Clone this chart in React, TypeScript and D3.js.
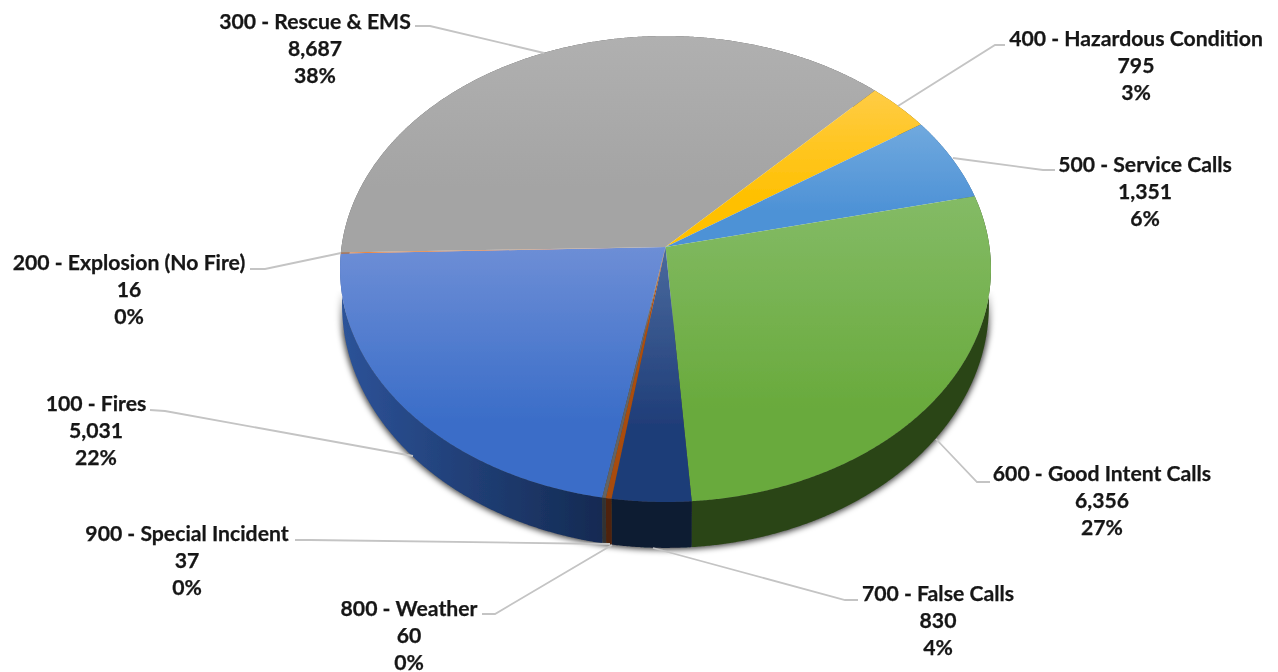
import * as d3 from "d3";

const categories = [
  "100 - Fires",
  "200 - Explosion (No Fire)",
  "300 - Rescue & EMS",
  "400 - Hazardous Condition",
  "500 - Service Calls",
  "600 - Good Intent Calls",
  "700 - False Calls",
  "800 - Weather",
  "900 - Special Incident",
];
const counts = [5031, 16, 8687, 795, 1351, 6356, 830, 60, 37];

// top face gradient (light, base) and wall gradient (left, right)
const topColors = [
  ["#6d8ed6", "#3a6dc8"],
  ["#ed7d31", "#ed7d31"],
  ["#b0b0b0", "#a4a4a4"],
  ["#ffcc45", "#ffc000"],
  ["#70a9de", "#4e92d6"],
  ["#84bb66", "#69aa3c"],
  ["#4a6a9e", "#1f3d78"],
  ["#b5500f", "#a84c0e"],
  ["#707070", "#636363"],
];
const wallColors = [
  ["#2d5399", "#142a52"],
  ["#7a3d14", "#7a3d14"],
  ["#555555", "#555555"],
  ["#7f6000", "#7f6000"],
  ["#2e5d8c", "#2e5d8c"],
  ["#2b4517", "#2b4517"],
  ["#0c1a33", "#0c1a33"],
  ["#4f2407", "#4f2407"],
  ["#333333", "#333333"],
];

// label centre and leader line for each category
const labelCenters = [
  [96, 404],
  [129, 263],
  [315, 22],
  [1136, 39],
  [1145, 165],
  [1102, 474],
  [938, 594],
  [409, 609],
  [187, 534],
];
const leaders = [
  [[150, 410], [165, 411], [413, 456]],
  [[250, 269], [265, 269], [341, 253]],
  [[415, 26], [430, 26], [544, 53]],
  [[1005, 45], [995, 45], [898, 106]],
  [[1055, 170], [1043, 170], [953, 158]],
  [[990, 482], [977, 482], [936, 439]],
  [[858, 600], [845, 600], [653, 548]],
  [[482, 614], [495, 614], [612, 545]],
  [[295, 540], [310, 540], [610, 544]],
];

const width = 1278;
const height = 672;
const perspective = 0.0944;
const startDeg = 190.2;

// disc plane projected with a little perspective, so the hub sits above the ellipse centre
const project = (hx: number, hy: number, a: number, b: number) => (angle: number): [number, number] => {
  const u = Math.sin(angle);
  const v = -Math.cos(angle);
  const w = 1 - perspective * v;
  return [hx + (a * u) / w, hy + (b * v) / w];
};
const topPlane = project(665.5, 247, 324, 230.9);
const bottomPlane = project(665.5, 282, 322, 240.8);

const arcAngles = (a0: number, a1: number) => {
  const n = Math.max(2, Math.ceil((a1 - a0) / 0.005));
  return d3.range(n + 1).map((i) => a0 + ((a1 - a0) * i) / n);
};
const line = d3.line();

export default function App() {
  const total = d3.sum(counts);
  const slices = d3
    .pie<number>()
    .sort(null)
    .startAngle((startDeg * Math.PI) / 180)
    .endAngle((startDeg * Math.PI) / 180 + 2 * Math.PI)(counts);
  const fmt = d3.format(",");

  return (
    <svg
      width={width}
      height={height}
      style={{ position: "fixed", left: 0, top: 0, background: "#fff" }}
    >
      <defs>
        <filter id="shadow" x="-10%" y="-10%" width="120%" height="120%">
          <feGaussianBlur stdDeviation="3" />
        </filter>
        <filter id="soft" x="-5%" y="-5%" width="110%" height="110%">
          <feGaussianBlur stdDeviation="0.35" />
        </filter>
        <filter id="softText" x="0" y="0" width="100%" height="100%" filterUnits="userSpaceOnUse">
          <feGaussianBlur stdDeviation="0.45" />
        </filter>
        {/* shadow fades in below the widest part of the pie */}
        <linearGradient id="shadowFade" gradientUnits="userSpaceOnUse" x1="0" y1="290" x2="0" y2="335">
          <stop offset="0" stopColor="#000" />
          <stop offset="1" stopColor="#fff" />
        </linearGradient>
        <mask id="lowerHalf" maskUnits="userSpaceOnUse" x="0" y="0" width={width} height={height}>
          <rect x={0} y={0} width={width} height={height} fill="url(#shadowFade)" />
        </mask>
        {slices.map((s, i) => (
          <g key={i}>
            <linearGradient id={`top${i}`} x1="0" y1="0" x2="0" y2="1">
              <stop offset="0" stopColor={topColors[s.index][0]} />
              <stop offset="0.7" stopColor={topColors[s.index][1]} />
            </linearGradient>
            <linearGradient id={`wall${i}`} x1="0" y1="0" x2="1" y2="0">
              <stop offset="0" stopColor={wallColors[s.index][0]} />
              <stop offset="1" stopColor={wallColors[s.index][1]} />
            </linearGradient>
          </g>
        ))}
      </defs>

      <g filter="url(#soft)">
        <g mask="url(#lowerHalf)">
          <path
            d={line(arcAngles(0, 2 * Math.PI).map(bottomPlane)) + "Z"}
            fill="#000"
            fillOpacity={0.75}
            stroke="#000"
            strokeOpacity={0.75}
            strokeWidth={3}
            filter="url(#shadow)"
          />
        </g>

        {/* side walls, top faces cover the hidden part */}
        {slices.map((s, i) => {
          const angles = arcAngles(s.startAngle, s.endAngle);
          const pts = [...angles.map(topPlane), ...angles.slice().reverse().map(bottomPlane)];
          return <path key={i} d={line(pts) + "Z"} fill={`url(#wall${i})`} />;
        })}

        {slices.map((s, i) => {
          const pts: [number, number][] = [[665.5, 247], ...arcAngles(s.startAngle, s.endAngle).map(topPlane)];
          return <path key={i} d={line(pts) + "Z"} fill={`url(#top${i})`} />;
        })}

        {leaders.map((pts, i) => (
          <path
            key={i}
            d={line(pts as [number, number][]) ?? ""}
            fill="none"
            stroke="#c4c4c4"
            strokeWidth={1.8}
          />
        ))}
      </g>

      <g filter="url(#softText)">
        {categories.map((name, i) => (
          <text
            key={name}
            x={labelCenters[i][0]}
            y={labelCenters[i][1]}
            textAnchor="middle"
            fontFamily="Lato, sans-serif"
            fontWeight={700}
            fontSize={21.2}
            fill="#161616"
            stroke="#161616"
            strokeWidth={0.25}
          >
            <tspan x={labelCenters[i][0]} dy="0.35em">{name}</tspan>
            <tspan x={labelCenters[i][0]} dy={26.8}>{fmt(counts[i])}</tspan>
            <tspan x={labelCenters[i][0]} dy={26.8}>{`${Math.round((counts[i] / total) * 100)}%`}</tspan>
          </text>
        ))}
      </g>
    </svg>
  );
}
